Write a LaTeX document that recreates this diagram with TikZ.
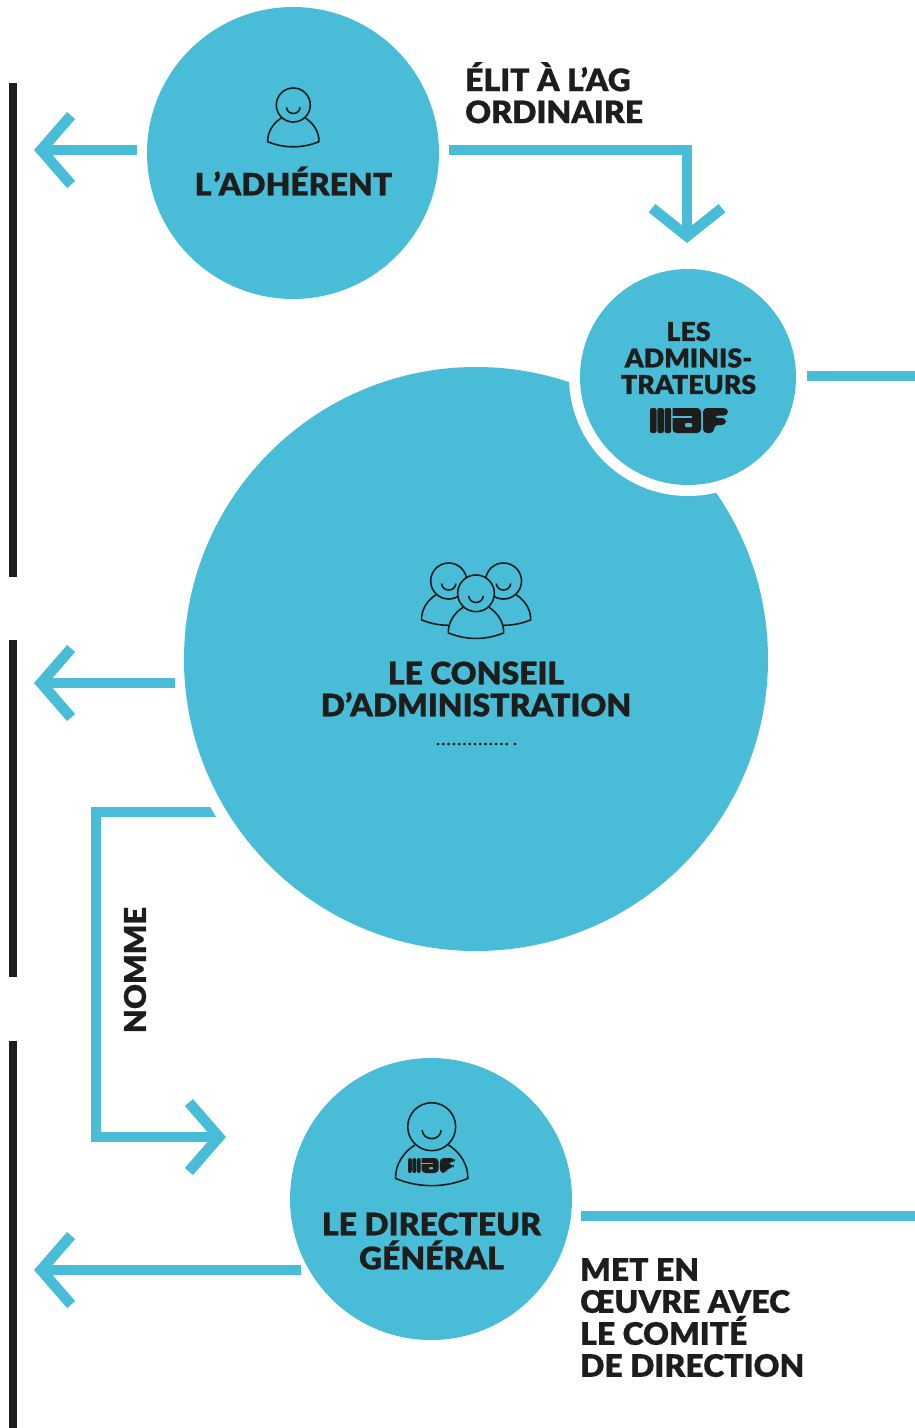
\documentclass[tikz,border=0pt]{standalone}
\usepackage{fontspec}
\setmainfont{Lato}[BoldFont={Lato Black},BoldFeatures={FakeStretch=1.03,FakeBold=0.5}]
\usetikzlibrary{arrows.meta,positioning}
\definecolor{mafblue}{HTML}{49BDD8}
\definecolor{mafblack}{HTML}{1D1D1B}
\tikzstyle{disc} = [circle,fill=mafblue,inner sep=0]
\tikzstyle{gap} = [circle,fill=white,inner sep=0]
\tikzstyle{pillar} = [rectangle,fill=mafblack,inner sep=0,minimum width=8pt]
\tikzstyle{flow} = [-{Straight Barb[length=30pt,width=69pt,line width=10.7pt]},mafblue,line width=10.7pt]
\tikzstyle{flowflat} = [-{Straight Barb[length=28pt,width=70pt,line width=10.7pt]},mafblue,line width=10.7pt]
\tikzstyle{flowplain} = [-,mafblue,line width=10.7pt]
\tikzstyle{label} = [inner sep=0,text=mafblack,font=\bfseries\fontsize{31}{32}\selectfont,align=left]
\tikzstyle{title} = [inner sep=0,text=mafblack,font=\bfseries\fontsize{31}{32}\selectfont,align=center]
\tikzstyle{skin} = [draw=mafblack,fill=mafblue,line width=1.6pt]
\tikzset{
  person/.pic={
    \draw[skin] (-12,13) .. controls (-20,18) and (-26,27) .. (-25.6,36.7) .. controls (-9,43.5) and (9,43.5) .. (25.6,36.7) .. controls (26,27) and (20,18) .. (12,13);
    \draw[skin] (0,0) circle (17);
    \draw[mafblack,line width=1.6pt] (-6.8,2.4) .. controls (-6,10.5) and (6,10.5) .. (6.8,2.4);
  },
  maf/.pic={
    \fill[mafblack,rounded corners=2pt] (0,0) rectangle (6.5,25);
    \fill[mafblack,rounded corners=2pt] (7.3,0) rectangle (13.8,25);
    \fill[mafblack,rounded corners=2pt] (14.6,0) rectangle (21.1,25);
    \fill[mafblack,rounded corners=4pt] (22.5,0) -- (51,0) -- (51,25) -- (22.5,25) -- (22.5,0);
    \fill[mafblue] (21.9,7.5) rectangle (42,10);
    \fill[mafblue,rounded corners=1pt] (35,15) rectangle (42,19);
    \fill[mafblack,rounded corners=4pt] (53,0) -- (78,0) -- (78,7.5) -- (64,7.5) -- (64,10) -- (76,10) -- (76,17) -- (64,17) -- (64,25) -- (53,25) -- cycle;
  }
}

\begin{document}
\begin{tikzpicture}[x=1pt,y=-1pt]
  \useasboundingbox (0,0) rectangle (915,1428);
  \coordinate (adh out) at (137,150);
  \coordinate (adh tip) at (34,150);
  \coordinate (cons out) at (175,683);
  \coordinate (cons tip) at (34,683);
  \coordinate (dir out) at (300.5,1270);
  \coordinate (dir tip) at (34,1270);
  \coordinate (elit out) at (449,150);
  \coordinate (elit tip) at (687,243);
  \coordinate (nom out) at (230,812);
  \coordinate (nom tip) at (226,1137);
  \coordinate (adm end) at (915,376);
  \coordinate (adm out) at (807,376);
  \coordinate (dir end) at (915,1216);
  \coordinate (dir in) at (581,1216);
  \draw[flow] (nom out) -- (96,812) |- (nom tip);
  \node[gap,minimum size=608pt] (halo cons) at (476,659) {};
  \node[pillar,minimum height=494pt] (bar1) at (13,330) {};
  \node[pillar,minimum height=337pt] (bar2) at (13,808.5) {};
  \node[pillar,minimum height=387pt] (bar3) at (13,1234.5) {};
  \node[disc,minimum size=292pt] (adherent) at (293,153) {};
  \node[disc,minimum size=584pt] (conseil) at (476,659) {};
  \node[gap,minimum size=238pt] (halo) at (688,377) {};
  \node[disc,minimum size=216pt] (admins) at (688,377) {};
  \node[disc,minimum size=282pt] (directeur) at (431,1199) {};
  \pic at (293.3,105) {person};
  \pic[scale=1.06] at (448.7,581) {person};
  \pic[scale=1.06] at (503.5,581) {person};
  \pic[scale=1.08] at (476,593.3) {person};
  \pic[scale=1.41] at (431.7,1126.7) {person};
  \pic at (650,408) {maf};
  \pic[scale=0.6] at (408,1158) {maf};
  \node[title] (t1) at (293.5,181) {L\kern2pt’ADHÉRENT};
  \node[title,font=\bfseries\fontsize{26}{26.5}\selectfont] (t2) at (688.5,358) {LES\\ADMINIS-\\TRATEURS};
  \node[title] (t3) at (476,689) {LE CONSEIL\\D’ADMINISTRATION};
  \node[title,font=\bfseries\fontsize{31}{34}\selectfont] (t4) at (431.5,1241) {LE DIRECTEUR\\GÉNÉRAL};
  \node[label,anchor=north west] (t5) at (465,62) {ÉLIT À L’AG\\ORDINAIRE};
  \node[label,anchor=north west] (t6) at (580,1258) {MET EN\\ŒUVRE AVEC\\LE COMITÉ\\DE DIRECTION};
  \node[label,rotate=90,font=\bfseries\fontsize{30}{32}\selectfont] (t7) at (135,970) {NOMME};
  \node[inner sep=0,text=mafblack,font=\bfseries\fontsize{13}{13}\selectfont\addfontfeature{LetterSpace=16}] (t8) at (476.5,744) {..............\kern5pt.};
  \draw[flow] (adh out) -- (adh tip);
  \draw[flow] (cons out) -- (cons tip);
  \draw[flow] (dir out) -- (dir tip);
  \draw[flowflat] (elit out) -| (elit tip);
  \draw[flowplain] (adm out) -- (adm end);
  \draw[flowplain] (dir in) -- (dir end);
\end{tikzpicture}
\end{document}
